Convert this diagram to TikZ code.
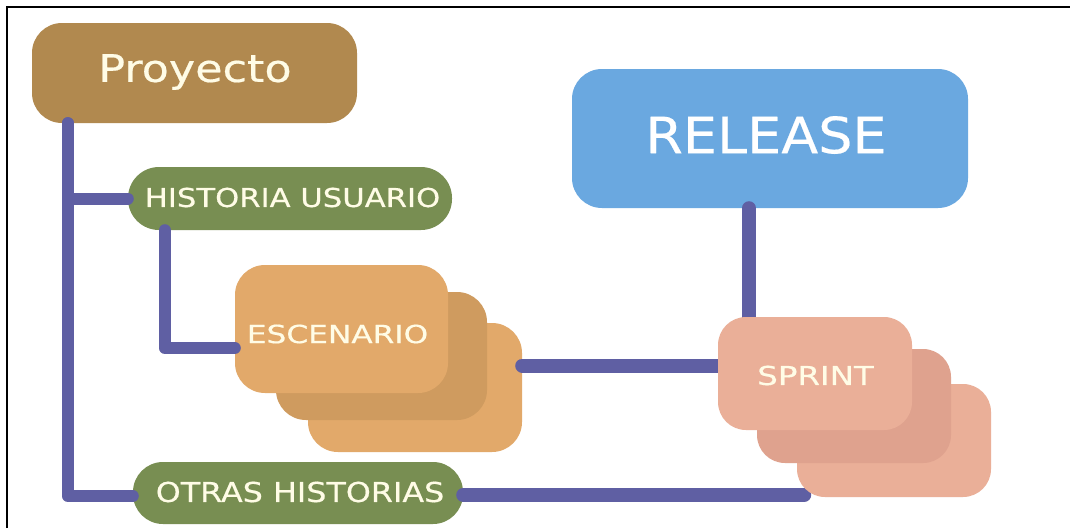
\documentclass[tikz,border=0pt]{standalone}
\usepackage{fontspec}
\usetikzlibrary{calc}
\newfontfamily\fProy[FakeStretch=1.17,FakeBold=0.5]{DejaVu Sans}
\newfontfamily\fRel[FakeStretch=1.08,FakeBold=0.4]{DejaVu Sans}
\newfontfamily\fHist[FakeStretch=1.18,FakeBold=0.5]{DejaVu Sans}
\newfontfamily\fEsc[FakeStretch=1.25,FakeBold=0.5]{DejaVu Sans}
\newfontfamily\fOtr[FakeStretch=1.16,FakeBold=0.5]{DejaVu Sans}
\definecolor{cProy}{HTML}{B1894F}
\definecolor{cGreen}{HTML}{788E52}
\definecolor{cEscA}{HTML}{E2A96A}
\definecolor{cEscB}{HTML}{CF9B5F}
\definecolor{cRel}{HTML}{6AA8E0}
\definecolor{cSprA}{HTML}{EAAF98}
\definecolor{cSprB}{HTML}{DFA28E}
\definecolor{cLink}{HTML}{5F5FA3}
\definecolor{cText}{HTML}{FFFCE6}
\tikzset{
  box/.style={rectangle, rounded corners=30pt, inner sep=0pt, draw=none},
  label/.style={inner sep=0pt, text=cText},
  link/.style={draw=cLink, line width=12pt, line cap=round, line join=round},
  linkb/.style={draw=cLink, line width=14pt, line cap=round, line join=round},
}
\begin{document}
\begin{tikzpicture}[x=1pt,y=-1pt]
\useasboundingbox (0,0) rectangle (1070,528);
\fill[white] (0,0) rectangle (1070,528);
\draw[line width=1.5pt] (7,528) -- (7,7) -- (1070,7);

% boxes
\node[box, fill=cProy, minimum width=325pt, minimum height=100pt] (proy) at (194.5,73) {};
\node[box, fill=cGreen, rounded corners=31pt, minimum width=324pt, minimum height=63pt] (hist) at (290,198.5) {};
\node[box, fill=cGreen, rounded corners=30pt, minimum width=330pt, minimum height=62pt] (otras) at (298,493) {};
\node[box, fill=cRel, minimum width=396pt, minimum height=139pt] (rel) at (770,138.5) {};

% connectors (drawn below the stacks)
\draw[link] ($(proy.south west)+(36,0)$) |- (hist.west);
\draw[link] ($(proy.south west)+(36,0)$) |- ($(otras.west)+(0,3)$);
\draw[linkb] ($(otras.east)+(0,2)$) -- ($(otras.east)+(341,2)$) coordinate (otrend);
\draw[linkb] ($(rel.south)+(-21,0)$) -- ($(rel.south)+(-21,115)$) coordinate (relend);

% escenario stack
\node[box, fill=cEscA, minimum width=214pt, minimum height=129pt] (esc3) at (415,387.5) {};
\node[box, fill=cEscB, minimum width=211pt, minimum height=128pt] (esc2) at (381.5,356) {};
\node[box, fill=cEscA, minimum width=213pt, minimum height=128pt] (esc1) at (341.5,329) {};

\draw[link] ($(hist.south west)+(37,0)$) |- ($(esc1.west)+(0,19)$);
\draw[linkb] ($(esc3.east)+(0,-22)$) -- ($(esc3.east)+(197,-22)$) coordinate (escend);

% sprint stack
\node[box, fill=cSprA, rounded corners=28pt, minimum width=194pt, minimum height=113pt] (spr3) at (894,440.5) {};
\node[box, fill=cSprB, rounded corners=28pt, minimum width=194pt, minimum height=114pt] (spr2) at (854,406) {};
\node[box, fill=cSprA, rounded corners=28pt, minimum width=194pt, minimum height=113pt] (spr1) at (815,373.5) {};

% texts
\node[label] (tproy) at (195,72) {\fProy\fontsize{38}{40}\selectfont Proyecto};
\node[label, text=white] (trel) at (766,135) {\fRel\fontsize{50}{52}\selectfont RELEASE};
\node[label] (thist) at (292.5,197.5) {\fHist\fontsize{26}{28}\selectfont HISTORIA USUARIO};
\node[label] (tesc) at (337.5,334) {\fEsc\fontsize{25}{27}\selectfont ESCENARIO};
\node[label] (tspr) at (815.5,375.5) {\fEsc\fontsize{26}{28}\selectfont SPRINT};
\node[label] (totr) at (300,492) {\fOtr\fontsize{27.4}{29}\selectfont OTRAS HISTORIAS};
\end{tikzpicture}
\end{document}
